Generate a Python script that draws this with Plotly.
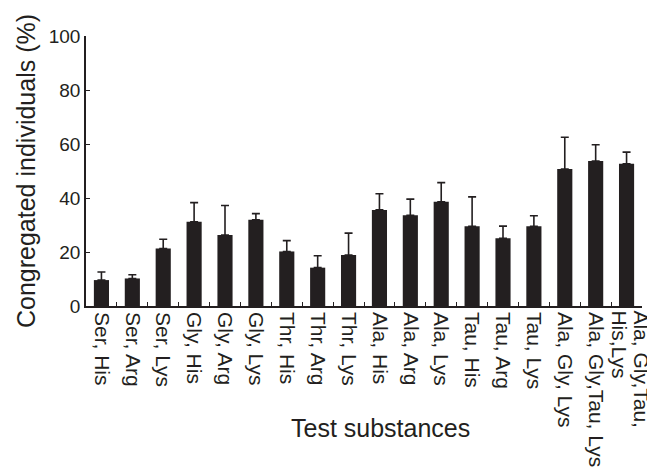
import plotly.graph_objects as go

categories = ["Ser, His", "Ser, Arg", "Ser, Lys", "Gly, His", "Gly, Arg", "Gly, Lys",
              "Thr, His", "Thr, Arg", "Thr, Lys", "Ala, His", "Ala, Arg", "Ala, Lys",
              "Tau, His", "Tau, Arg", "Tau, Lys", "Ala, Gly, Lys", "Ala, Gly,Tau, Lys",
              "Ala, Gly,Tau, His,Lys"]
last_label_lines = ["Ala, Gly,Tau,", "His,Lys"]
values = [9.6, 10.2, 21.3, 31.2, 26.3, 31.9, 20.2, 14.2, 18.9, 35.6, 33.6, 38.6,
          29.5, 25.1, 29.5, 50.7, 53.7, 52.7]
errors = [3.0, 1.4, 3.4, 7.1, 10.9, 2.3, 4.0, 4.4, 8.1, 6.0, 6.0, 7.1,
          10.9, 4.5, 3.9, 11.8, 6.0, 4.3]
y_ticks = [0, 20, 40, 60, 80, 100]

ink = "#231f20"
font = "Liberation Sans, Arial, Helvetica, sans-serif"

fig = go.Figure(go.Bar(
    x=categories, y=values,
    marker=dict(color=ink, line=dict(width=0)),
    width=0.49,
    error_y=dict(type="data", array=errors, arrayminus=[0] * len(errors),
                 symmetric=False, color=ink, thickness=1.6, width=4),
))

tick_text = categories[:-1] + [""]

annotations = [dict(
    text="Test substances", xref="paper", yref="paper",
    x=0.529, y=-0.452, xanchor="center", yanchor="middle",
    showarrow=False, font=dict(size=25, color=ink),
)]
# two-line label of the last category, with tight line spacing as in the original
for line, shift in zip(last_label_lines, [15, -7]):
    annotations.append(dict(
        text=line, xref="x", yref="paper", x=categories[-1], y=0,
        xanchor="center", yanchor="top", textangle=90, xshift=shift, yshift=-2,
        showarrow=False, font=dict(size=21, color=ink),
    ))

# the page body adds an 8 px offset, so the figure is 8 px smaller on each side
fig.update_layout(
    width=647, height=463,
    margin=dict(l=78, r=13, t=28, b=165, autoexpand=False),
    paper_bgcolor="white", plot_bgcolor="white",
    font=dict(family=font, size=19, color=ink),
    showlegend=False,
    bargap=0.5,
    annotations=annotations,
)
fig.update_xaxes(
    type="category", range=[-0.5, len(categories) - 0.5],
    tickson="boundaries", ticks="inside", ticklen=4,
    tickwidth=1.2, tickcolor=ink, tickangle=90,
    tickvals=categories, ticktext=tick_text,
    showline=True, linecolor=ink, linewidth=1.5, showgrid=False,
    tickfont=dict(size=21), automargin=False,
)
fig.update_yaxes(
    range=[0, 100], tickvals=y_ticks, ticks="inside", ticklen=4,
    tickwidth=1.2, tickcolor=ink,
    showline=True, linecolor=ink, linewidth=1.5, showgrid=False, zeroline=False,
    tickfont=dict(size=19), automargin=False,
    title=dict(text="Congregated individuals (%)", font=dict(size=25), standoff=6),
)

fig.write_html("out.html")
